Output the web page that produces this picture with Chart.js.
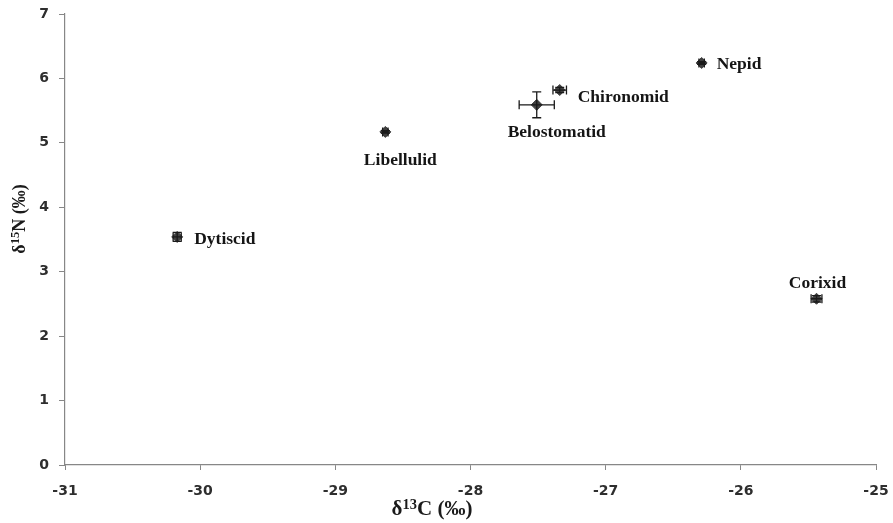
<!DOCTYPE html>
<html>
<head>
<meta charset="utf-8">
<script src="https://cdn.jsdelivr.net/npm/chart.js@4"></script>
<style>
  html, body { margin: 0; padding: 0; background: #fff; }
  #wrap { width: 893px; height: 523px; }
</style>
</head>
<body>
<div id="wrap"><canvas id="isoChart" width="893" height="523"></canvas></div>
<script>
// taxa and their stable isotope means
var taxa = ['Dytiscid', 'Libellulid', 'Belostomatid', 'Chironomid', 'Nepid', 'Corixid'];
var d13C = [-30.17, -28.63, -27.51, -27.34, -26.29, -25.44];
var d15N = [3.54, 5.17, 5.59, 5.82, 6.24, 2.58];
// standard errors
var d13CErr = [0.03, 0.02, 0.13, 0.05, 0.02, 0.04];
var d15NErr = [0.07, 0.02, 0.20, 0.04, 0.02, 0.05];

var xTicks = [-31, -30, -29, -28, -27, -26, -25];
var yTicks = [0, 1, 2, 3, 4, 5, 6, 7];

// label placement relative to the point (px)
var labelPos = [
  { dx: 17, dy: 3, align: 'left' },
  { dx: 15, dy: 29, align: 'center' },
  { dx: 20, dy: 28, align: 'center' },
  { dx: 18, dy: 7, align: 'left' },
  { dx: 15, dy: 2, align: 'left' },
  { dx: 1, dy: -15, align: 'center' }
];

var points = taxa.map(function (t, i) {
  return { x: d13C[i], y: d15N[i] };
});

// error bars + point labels
var extrasPlugin = {
  id: 'extras',
  afterDatasetsDraw: function (chart) {
    var ctx = chart.ctx;
    var xs = chart.scales.x, ys = chart.scales.y;
    ctx.save();
    ctx.strokeStyle = '#1a1a1a';
    ctx.lineWidth = 1.3;
    var cap = 4.5;
    for (var i = 0; i < taxa.length; i++) {
      var px = xs.getPixelForValue(d13C[i]);
      var py = ys.getPixelForValue(d15N[i]);
      var x1 = xs.getPixelForValue(d13C[i] - d13CErr[i]);
      var x2 = xs.getPixelForValue(d13C[i] + d13CErr[i]);
      var y1 = ys.getPixelForValue(d15N[i] - d15NErr[i]);
      var y2 = ys.getPixelForValue(d15N[i] + d15NErr[i]);
      ctx.beginPath();
      ctx.moveTo(x1, py); ctx.lineTo(x2, py);
      ctx.moveTo(x1, py - cap); ctx.lineTo(x1, py + cap);
      ctx.moveTo(x2, py - cap); ctx.lineTo(x2, py + cap);
      ctx.moveTo(px, y1); ctx.lineTo(px, y2);
      ctx.moveTo(px - cap, y1); ctx.lineTo(px + cap, y1);
      ctx.moveTo(px - cap, y2); ctx.lineTo(px + cap, y2);
      ctx.stroke();
    }
    ctx.fillStyle = '#151515';
    ctx.font = 'bold 17.5px "Liberation Serif"';
    ctx.textBaseline = 'middle';
    for (var j = 0; j < taxa.length; j++) {
      var lx = xs.getPixelForValue(d13C[j]) + labelPos[j].dx;
      var ly = ys.getPixelForValue(d15N[j]) + labelPos[j].dy;
      ctx.textAlign = labelPos[j].align;
      ctx.fillText(taxa[j], lx, ly);
    }
    ctx.restore();
  },
  afterDraw: function (chart) {
    // axis titles with superscripts
    var ctx = chart.ctx;
    ctx.save();
    ctx.fillStyle = '#1a1a1a';
    ctx.textBaseline = 'alphabetic';
    ctx.textAlign = 'left';
    function measure(parts, size, supSize) {
      var w = 0;
      parts.forEach(function (p) {
        ctx.font = 'bold ' + (p.sup ? supSize : size) + 'px "Liberation Serif"';
        p.w = ctx.measureText(p.t).width;
        w += p.w;
      });
      return w;
    }
    function drawParts(parts, x, y, size, supSize, rise) {
      parts.forEach(function (p) {
        ctx.font = 'bold ' + (p.sup ? supSize : size) + 'px "Liberation Serif"';
        ctx.fillText(p.t, x, p.sup ? y - rise : y);
        x += p.w;
      });
    }
    var xt = [{ t: 'δ' }, { t: '13', sup: true }, { t: 'C (‰)' }];
    var wx = measure(xt, 21, 14.5);
    drawParts(xt, 432 - wx / 2, 515, 21, 14.5, 6);

    var yt = [{ t: 'δ' }, { t: '15', sup: true }, { t: 'N (‰)' }];
    var wy = measure(yt, 18, 12.5);
    ctx.translate(25, 219);
    ctx.rotate(-Math.PI / 2);
    drawParts(yt, -wy / 2, 0, 18, 12.5, 6);
    ctx.restore();
  }
};

var tickFont = { family: '"DejaVu Sans"', size: 14, weight: 'bold' };

new Chart(document.getElementById('isoChart'), {
  type: 'scatter',
  data: {
    datasets: [{
      label: 'taxa',
      data: points,
      pointStyle: 'rectRot',
      pointRadius: 5.5,
      pointHoverRadius: 5.5,
      backgroundColor: '#3f3f3f',
      borderColor: '#3f3f3f',
      borderWidth: 1
    }]
  },
  options: {
    responsive: false,
    animation: false,
    events: [],
    layout: { padding: { left: 0, right: 17, top: 14, bottom: 0 } },
    plugins: {
      legend: { display: false },
      tooltip: { enabled: false }
    },
    scales: {
      x: {
        type: 'linear',
        min: -31,
        max: -25,
        afterBuildTicks: function (s) { s.ticks = xTicks.map(function (v) { return { value: v }; }); },
        afterFit: function (s) { s.height = 58; s.paddingLeft = 0; s.paddingRight = 0; },
        grid: { drawOnChartArea: false, drawTicks: true, tickLength: 5, color: '#878787' },
        border: { color: '#878787', width: 1.2 },
        ticks: { color: '#2e2e2e', font: tickFont, padding: 13, maxRotation: 0 }
      },
      y: {
        type: 'linear',
        min: 0,
        max: 7,
        afterBuildTicks: function (s) { s.ticks = yTicks.map(function (v) { return { value: v }; }); },
        afterFit: function (s) { s.width = 65; s.paddingTop = 0; s.paddingBottom = 0; },
        grid: { drawOnChartArea: false, drawTicks: true, tickLength: 6, color: '#878787' },
        border: { color: '#878787', width: 1.2 },
        ticks: { color: '#2e2e2e', font: tickFont, padding: 10 }
      }
    }
  },
  plugins: [extrasPlugin]
});
</script>
</body>
</html>
